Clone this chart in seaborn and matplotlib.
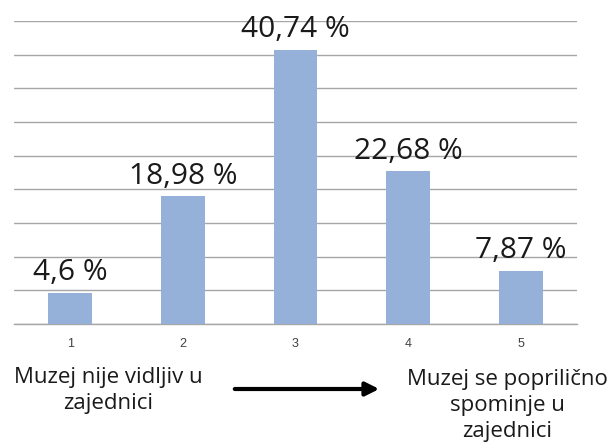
import matplotlib
matplotlib.use("Agg")
import matplotlib.pyplot as plt
import seaborn as sns
import pandas as pd
import numpy as np

# data
categories = ["1", "2", "3", "4", "5"]
values = [4.6, 18.98, 40.74, 22.68, 7.87]
value_labels = ["4,6 %", "18,98 %", "40,74 %", "22,68 %", "7,87 %"]
left_text = "Muzej nije vidljiv u\nzajednici"
right_text = "Muzej se poprilično\nspominje u\nzajednici"

df = pd.DataFrame({"cat": categories, "val": values})

sns.set_style("white")
plt.rcParams["font.family"] = ["Open Sans", "DejaVu Sans"]

fig = plt.figure(figsize=(6.14, 4.43), dpi=100)
ax = fig.add_axes([14 / 614, 1 - 324 / 443, 563 / 614, 303 / 443])

sns.barplot(data=df, x="cat", y="val", color="#95B0D9", width=0.39,
            saturation=1, linewidth=0, edgecolor="none", ax=ax, zorder=3)

ax.set_xlim(-0.5, 4.5)
ax.set_ylim(0, 45)
ax.set_yticks(np.arange(0, 46, 5))
ax.set_yticklabels([])
ax.tick_params(axis="y", length=0)
ax.yaxis.grid(True, color="#A6A6A6", linewidth=1)
ax.set_axisbelow(True)

for s in ["left", "right", "top"]:
    ax.spines[s].set_visible(False)
ax.spines["bottom"].set_color("#A6A6A6")
ax.spines["bottom"].set_linewidth(1)

ax.set_xticks(range(5))
ax.set_xticklabels(categories, fontfamily="Liberation Sans", fontsize=9, color="#404040")
ax.tick_params(axis="x", length=0, pad=10)
ax.set_xticks(np.arange(-0.5, 5, 1), minor=True)
ax.tick_params(axis="x", which="minor", length=5, color="#A6A6A6", width=1)
ax.set_xlabel("")
ax.set_ylabel("")

for i, (v, lab) in enumerate(zip(values, value_labels)):
    ax.annotate(lab, (i, v), xytext=(0, 4), textcoords="offset points",
                ha="center", va="bottom", fontsize=21.5, color="#1a1a1a",
                annotation_clip=False)

# va="baseline" sits on the last line of a multi-line text
fig.text(108.5 / 614, 1 - 409 / 443, left_text, ha="center", va="baseline",
         fontsize=16, linespacing=1.3, color="#1a1a1a")
fig.text(507.5 / 614, 1 - 437 / 443, right_text, ha="center", va="baseline",
         fontsize=16, linespacing=1.3, color="#1a1a1a")

fig.patches.append(matplotlib.patches.FancyArrowPatch(
    (232 / 614, 1 - 389 / 443), (382 / 614, 1 - 389 / 443),
    transform=fig.transFigure, arrowstyle="-|>,head_length=8,head_width=4",
    mutation_scale=1, linewidth=3, color="black"))

fig.savefig("out.png", dpi=100)
